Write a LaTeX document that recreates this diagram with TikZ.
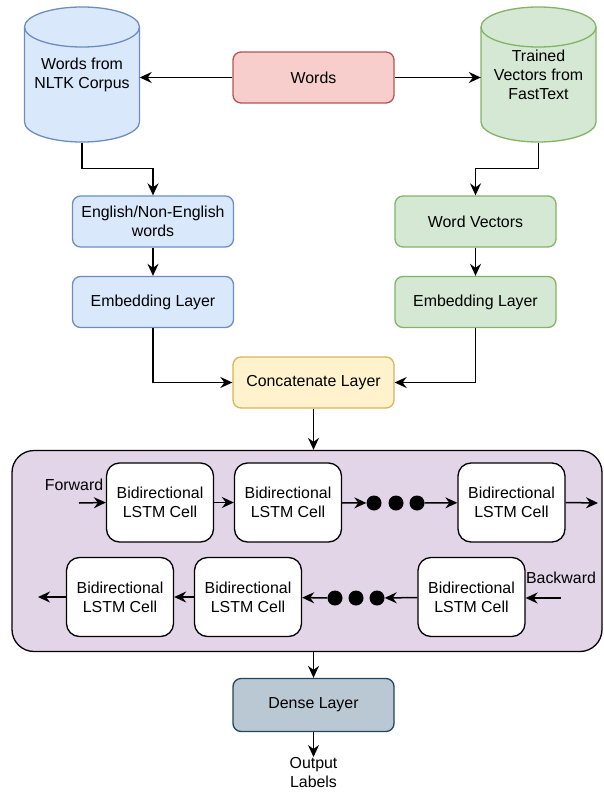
\documentclass[tikz,border=0pt]{standalone}
\usepackage{fontspec}
\setmainfont{Liberation Sans}
\usetikzlibrary{arrows.meta}
\definecolor{bF}{HTML}{DAE8FC}\definecolor{bS}{HTML}{6C8EBF}
\definecolor{gF}{HTML}{D5E8D4}\definecolor{gS}{HTML}{82B366}
\definecolor{rF}{HTML}{F8CECC}\definecolor{rS}{HTML}{B85450}
\definecolor{yF}{HTML}{FFF2CC}\definecolor{yS}{HTML}{D6B656}
\definecolor{pF}{HTML}{E1D5E7}
\definecolor{dF}{HTML}{BAC8D3}\definecolor{dS}{HTML}{23445D}
\newcommand{\drawcyl}[3]{%
  \filldraw[fill=#2,draw=#3,line width=1.3pt] (#1-57.5,-27) -- (#1-57.5,-122)
    arc[start angle=180,end angle=360,x radius=57.5,y radius=20] -- (#1+57.5,-27)
    arc[start angle=0,end angle=180,x radius=57.5,y radius=20] -- cycle;
  \draw[#3,line width=1.3pt] (#1-57.5,-27) arc[start angle=180,end angle=360,x radius=57.5,y radius=20];}
\tikzset{
  txt/.style={font=\fontsize{15.9}{19}\selectfont, align=center, inner sep=0pt},
  box/.style={txt, draw, rounded corners=8pt, minimum width=161pt, minimum height=51pt, line width=1.3pt},
  cell/.style={txt, draw=black, fill=white, rounded corners=13pt, minimum width=107pt, minimum height=79pt, line width=1.3pt},
  dot/.style={circle, fill=black, minimum size=15pt, inner sep=0pt},
  arr/.style={line width=1.5pt, -{Stealth[length=12pt,width=11pt,inset=4pt]}},
  cylnode/.style={txt, minimum width=115pt, minimum height=135pt}
}
\begin{document}
\begin{tikzpicture}[x=1pt,y=1pt]
\useasboundingbox (0,0) rectangle (604,-792);
% cylinders
\drawcyl{82}{bF}{bS}
\drawcyl{538.5}{gF}{gS}
\node[cylnode] (nltk) at (82,-75) {Words from\\NLTK Corpus};
\node[cylnode] (ft) at (538.5,-75) {Trained\\Vectors from\\FastText};
% top boxes
\node[box, fill=rF, draw=rS] (words) at (313.5,-77.5) {Words};
\node[box, fill=bF, draw=bS] (eng) at (153,-221.5) {English/Non-English\\words};
\node[box, fill=bF, draw=bS] (emb1) at (153,-302) {Embedding Layer};
\node[box, fill=gF, draw=gS] (wv) at (475.5,-221.5) {Word Vectors};
\node[box, fill=gF, draw=gS] (emb2) at (475.5,-302) {Embedding Layer};
\node[box, fill=yF, draw=yS] (cat) at (313.5,-382.5) {Concatenate Layer};
% container
\node[draw=black, fill=pF, rounded corners=22pt, line width=1.3pt, minimum width=590pt, minimum height=201pt, inner sep=0pt] (cont) at (307,-551) {};
% cells
\node[cell] (c1) at (160,-502.5) {Bidirectional\\LSTM Cell};
\node[cell] (c2) at (288,-502.5) {Bidirectional\\LSTM Cell};
\node[cell] (c3) at (511.5,-502.5) {Bidirectional\\LSTM Cell};
\node[cell] (b1) at (120,-597) {Bidirectional\\LSTM Cell};
\node[cell] (b2) at (248,-597) {Bidirectional\\LSTM Cell};
\node[cell] (b3) at (471.5,-597) {Bidirectional\\LSTM Cell};
\node[dot] (t1) at (374,-503) {};
\node[dot] (t2) at (396,-503) {};
\node[dot] (t3) at (417,-503) {};
\node[dot] (u1) at (335,-598) {};
\node[dot] (u2) at (356,-598) {};
\node[dot] (u3) at (377,-598) {};
\node[txt] (fw) at (74,-485) {Forward};
\node[txt] (bw) at (561,-578) {Backward};
\coordinate (fin) at (79,-503);
\coordinate (fout) at (598,-503);
\coordinate (bin) at (561,-598);
\coordinate (bout) at (38,-597);
% dense and output
\node[box, fill=dF, draw=dS, minimum height=53pt] (dense) at (313.5,-705) {Dense Layer};
\node[txt, anchor=north] (out) at (313.5,-757) {Output\\Labels};
% connectors
\draw[arr] (words.west) -- (nltk.east |- words.west);
\draw[arr] (words.east) -- (ft.west |- words.east);
\draw[arr] (nltk.south) -- ++(0,-26) -| (eng.north);
\draw[arr] (ft.south) -- ++(0,-26) -| (wv.north);
\draw[arr] (eng) -- (emb1);
\draw[arr] (wv) -- (emb2);
\draw[arr] (emb1.south) |- (cat.west);
\draw[arr] (emb2.south) |- (cat.east);
\draw[arr] (cat.south) -- (cat.south |- cont.north);
\draw[arr] (fin) -- (c1.west);
\draw[arr] (c1) -- (c2);
\draw[arr] (c2) -- (t1);
\draw[arr] (t3) -- (c3);
\draw[arr] (c3.east) -- (fout);
\draw[arr] (bin) -- (b3.east |- bin);
\draw[arr] (b3) -- (u3);
\draw[arr] (u1) -- (b2);
\draw[arr] (b2) -- (b1);
\draw[arr] (b1.west) -- (bout);
\draw[arr] (cont.south -| dense.north) -- (dense.north);
\draw[arr] (dense.south) -- (out.north);
\end{tikzpicture}
\end{document}
